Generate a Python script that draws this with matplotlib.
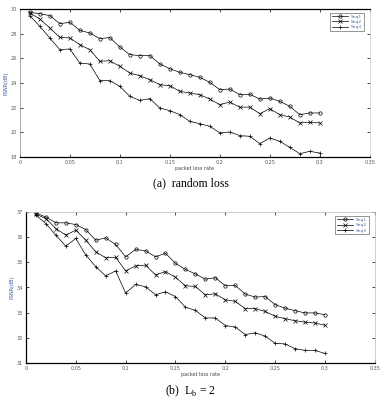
import matplotlib.pyplot as plt
import numpy as np

# packet loss rate values (x) shared by all curves
loss_rate = [0.01, 0.02, 0.03, 0.04, 0.05, 0.06, 0.07, 0.08, 0.09, 0.10,
             0.11, 0.12, 0.13, 0.14, 0.15, 0.16, 0.17, 0.18, 0.19, 0.20,
             0.21, 0.22, 0.23, 0.24, 0.25, 0.26, 0.27, 0.28, 0.29, 0.30]

series_names = ['Seq1', 'Seq2', 'Seq3']

# (a) random loss
rand_seq1 = [29.73, 29.62, 29.46, 28.81, 28.92, 28.27, 28.05, 27.60, 27.68, 26.92,
             26.30, 26.22, 26.22, 25.54, 25.16, 24.86, 24.68, 24.46, 24.05, 23.46,
             23.51, 23.05, 23.08, 22.70, 22.78, 22.51, 22.11, 21.43, 21.57, 21.57]
rand_seq2 = [29.68, 29.19, 28.46, 27.70, 27.65, 27.11, 26.70, 25.76, 25.81, 25.35,
             24.81, 24.59, 24.27, 23.86, 23.78, 23.32, 23.19, 23.05, 22.70, 22.24,
             22.46, 22.03, 22.05, 21.51, 21.92, 21.43, 21.24, 20.76, 20.81, 20.76]
rand_seq3 = [29.46, 28.59, 27.65, 26.70, 26.76, 25.62, 25.54, 24.19, 24.19, 23.73,
             22.92, 22.59, 22.73, 21.97, 21.76, 21.43, 20.89, 20.70, 20.49, 19.95,
             20.03, 19.73, 19.68, 19.08, 19.54, 19.27, 18.78, 18.27, 18.46, 18.32]

# (b) burst loss, Lb = 2
burst_seq1 = [36.96, 36.80, 36.57, 36.57, 36.50, 36.30, 35.88, 35.97, 35.71, 35.22,
              35.51, 35.46, 35.22, 35.36, 34.96, 34.72, 34.54, 34.33, 34.39, 34.07,
              34.08, 33.74, 33.62, 33.64, 33.32, 33.18, 33.08, 32.99, 32.99, 32.92]
burst_seq2 = [36.91, 36.74, 36.34, 36.08, 36.28, 35.88, 35.42, 35.18, 35.20, 34.66,
              34.86, 34.89, 34.50, 34.63, 34.41, 34.07, 34.04, 33.71, 33.75, 33.51,
              33.45, 33.16, 33.16, 33.05, 32.86, 32.76, 32.68, 32.62, 32.59, 32.50]
burst_seq3 = [36.87, 36.54, 36.08, 35.64, 35.95, 35.29, 34.83, 34.46, 34.66, 33.78,
              34.12, 34.03, 33.71, 33.83, 33.64, 33.22, 33.09, 32.79, 32.79, 32.49,
              32.43, 32.13, 32.20, 32.07, 31.78, 31.76, 31.57, 31.50, 31.50, 31.38]

x_ticks = [0, 0.05, 0.1, 0.15, 0.2, 0.25, 0.3, 0.35]
x_tick_labels = ['0', '0.05', '0.1', '0.15', '0.2', '0.25', '0.3', '0.35']
rand_y_ticks = [18, 20, 22, 24, 26, 28, 30]
burst_y_ticks = [31, 32, 33, 34, 35, 36, 37]

markers = ['o', 'x', '+']
tick_fs = 3.5


def draw_panel(ax, curves, y_ticks):
    for vals, name, mk in zip(curves, series_names, markers):
        ax.plot(loss_rate, vals, color='black', lw=0.5, marker=mk,
                markersize=2.4, markerfacecolor='none', markeredgewidth=0.5,
                label=name)
    ax.set_xlim(0, 0.35)
    ax.set_ylim(y_ticks[0], y_ticks[-1])
    ax.set_xticks(x_ticks)
    ax.set_xticklabels(x_tick_labels)
    ax.set_yticks(y_ticks)
    ax.tick_params(direction='in', length=2.5, width=0.5, labelsize=tick_fs,
                   top=True, right=True, pad=2, labelcolor='#555555')
    ax.set_xlabel('packet loss rate', fontsize=tick_fs, labelpad=1, color='#444444')
    ax.set_ylabel('PSNR(dB)', fontsize=tick_fs, labelpad=2, color='#3a5a9a')
    leg = ax.legend(loc='upper right', fontsize=3.2, frameon=True, fancybox=False,
                    edgecolor='#444444', handlelength=3.5, borderpad=0.4,
                    labelspacing=0.3, markerfirst=True,
                    bbox_to_anchor=(0.99, 0.99))
    leg.get_frame().set_linewidth(0.5)
    for t in leg.get_texts():
        t.set_color('#4a6a9a')


fig = plt.figure(figsize=(3.82, 4.0), dpi=100)

ax1 = fig.add_axes([0.052, 0.6075, 0.916, 0.37])
draw_panel(ax1, [rand_seq1, rand_seq2, rand_seq3], rand_y_ticks)
ax1.spines['top'].set_linewidth(0.9)
ax1.spines['bottom'].set_linewidth(0.9)
ax1.spines['left'].set_color('#999999')
ax1.spines['right'].set_color('#cccccc')
ax1.spines['left'].set_linewidth(0.6)
ax1.spines['right'].set_linewidth(0.5)

ax2 = fig.add_axes([0.068, 0.0925, 0.913, 0.3775])
draw_panel(ax2, [burst_seq1, burst_seq2, burst_seq3], burst_y_ticks)
ax2.spines['left'].set_linewidth(0.9)
ax2.spines['bottom'].set_linewidth(0.9)
ax2.spines['top'].set_color('#bbbbbb')
ax2.spines['right'].set_color('#bbbbbb')
ax2.spines['top'].set_linewidth(0.5)
ax2.spines['right'].set_linewidth(0.5)

fig.text(0.5, 1 - 183 / 400, '(a)  random loss', ha='center', va='center',
         family='Liberation Serif', fontsize=8.5)
fig.text(0.5, 1 - 391 / 400, '(b)  L$_\\mathregular{b}$ = 2', ha='center', va='center',
         family='Liberation Serif', fontsize=8.5)

fig.savefig('out.png', dpi=100)
